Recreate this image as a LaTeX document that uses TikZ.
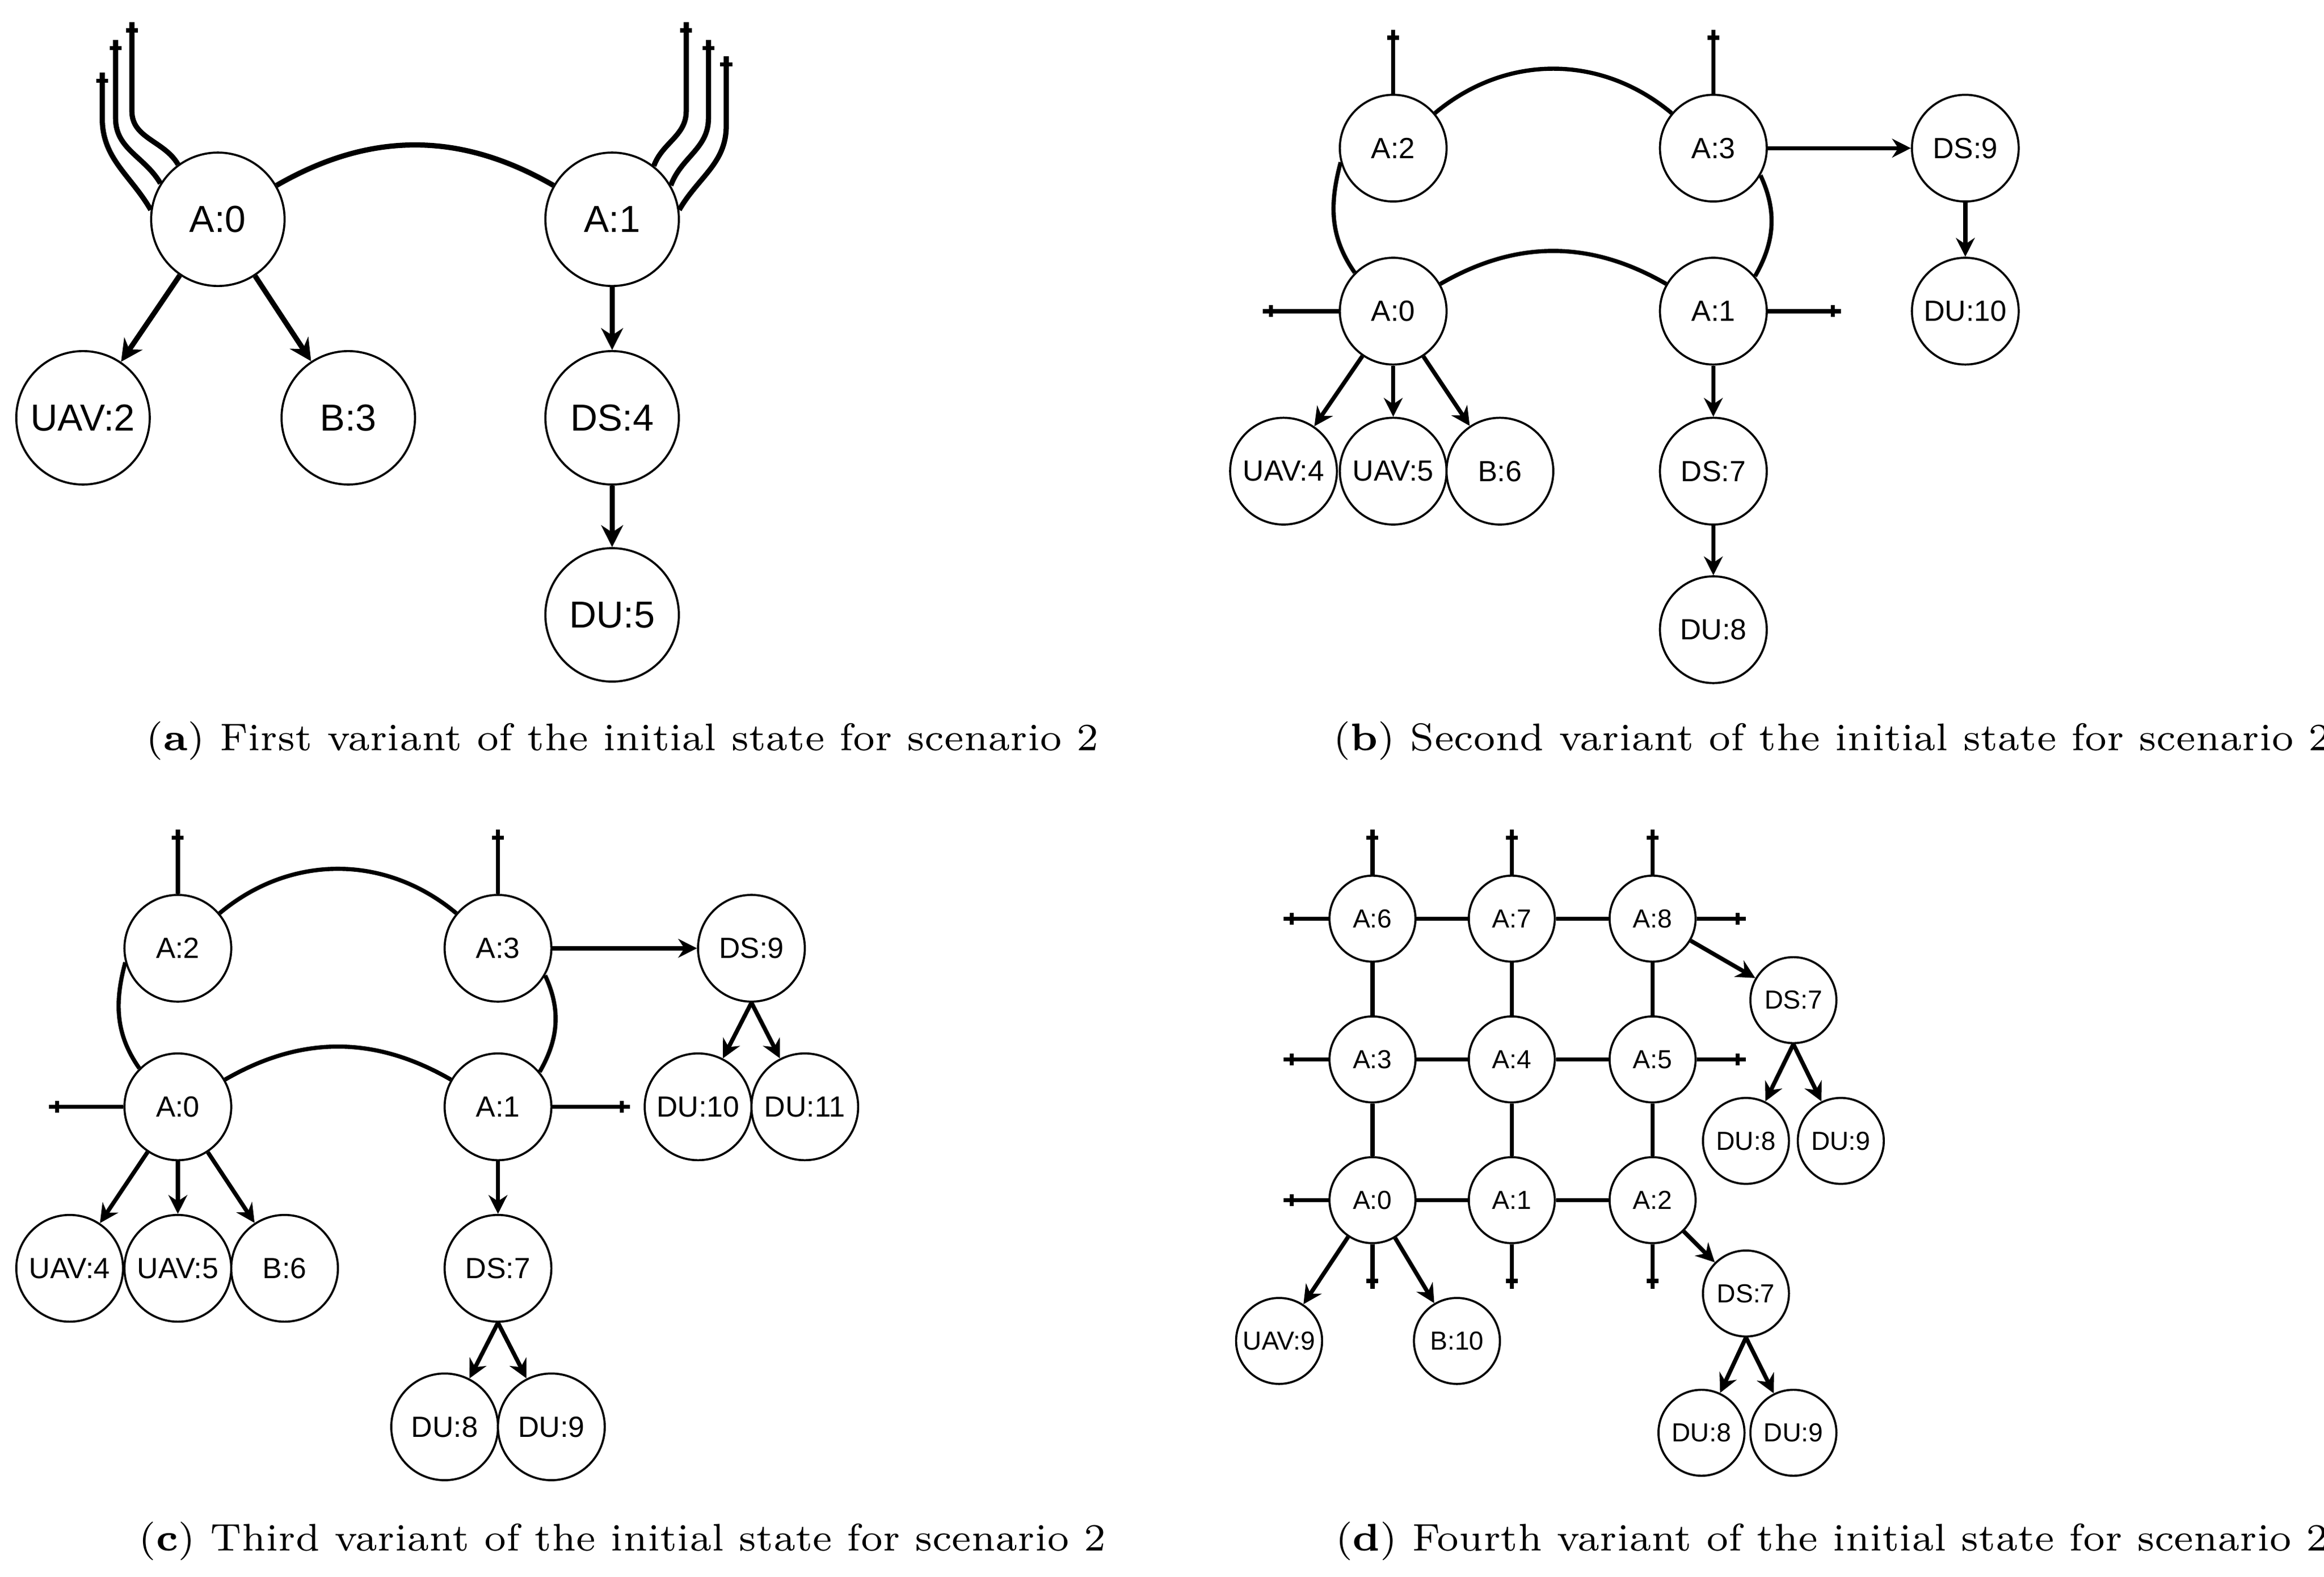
\documentclass[tikz,border=0pt]{standalone}
\usepackage{fontspec}
\newfontfamily\sfl{Liberation Sans}
\usetikzlibrary{arrows.meta,decorations.markings}
\begin{document}
\begin{tikzpicture}[x=0.01cm,y=-0.01cm,
  nd/.style={circle,draw,line width=0.4pt,inner sep=0pt,fill=white,font=\sfl},
  na/.style={nd,minimum size=0.9cm,font=\sfl\fontsize{7.2}{8}\selectfont},
  nb/.style={nd,minimum size=0.72cm,font=\sfl\fontsize{5.6}{7}\selectfont},
  ndd/.style={nd,minimum size=0.58cm,font=\sfl\fontsize{5}{6}\selectfont},
  ln/.style={line width=0.8pt},
  lna/.style={line width=1pt},
  ar/.style={ln,-{Stealth[length=3.6pt,width=3.6pt]}},
  ara/.style={lna,-{Stealth[length=4.2pt,width=4.2pt]}},
  stub/.style={ln,postaction={decorate},decoration={markings,mark=at position 1 with {\draw[line width=0.8pt] (-0.055cm,-0.04cm)--(-0.055cm,0.04cm);}}},
  captxt/.style={font=\fontsize{7.4}{9}\selectfont}]
\useasboundingbox (0,0) rectangle (1568,1064);
% ---------- (a)
\node[na] (a0) at (147,148) {A:0};
\node[na] (a1) at (413,148) {A:1};
\node[na] (a2) at (56,282) {UAV:2};
\node[na] (a3) at (235,282) {B:3};
\node[na] (a4) at (413,282) {DS:4};
\node[na] (a5) at (413,415) {DU:5};
\draw[lna] (a0) to[out=30,in=150] (a1);
\coordinate (al1) at (69,49); \coordinate (al2) at (78,27); \coordinate (al3) at (89,15);
\coordinate (ar1) at (463,15); \coordinate (ar2) at (478,27); \coordinate (ar3) at (490,38);
\draw[stub,lna] (a0.172) to[out=120,in=-90] (69,80) -- (al1);
\draw[stub,lna] (a0.148) to[out=120,in=-90] (78,80) -- (al2);
\draw[stub,lna] (a0.126) to[out=120,in=-90] (89,75) -- (al3);
\draw[stub,lna] (a1.52) to[out=70,in=-90] (463,75) -- (ar1);
\draw[stub,lna] (a1.30) to[out=70,in=-90] (478,80) -- (ar2);
\draw[stub,lna] (a1.8) to[out=60,in=-90] (490,85) -- (ar3);
\draw[ara] (a0) -- (a2);
\draw[ara] (a0) -- (a3);
\draw[ara] (a1) -- (a4);
\draw[ara] (a4) -- (a5);
\node[captxt] (capa) at (420,500) {(\textbf{a}) First variant of the initial state for scenario 2};
% ---------- (b)
\node[nb] (b2) at (940,100) {A:2};
\node[nb] (b3) at (1156,100) {A:3};
\node[nb] (b0) at (940,210) {A:0};
\node[nb] (b1) at (1156,210) {A:1};
\node[nb] (b9) at (1326,100) {DS:9};
\node[nb] (b10) at (1326,210) {DU:10};
\node[nb] (b4) at (866,318) {UAV:4};
\node[nb] (b5) at (940,318) {UAV:5};
\node[nb] (b6) at (1012,318) {B:6};
\node[nb] (b7) at (1156,318) {DS:7};
\node[nb] (b8) at (1156,425) {DU:8};
\coordinate (bt2) at (940,20); \coordinate (bt3) at (1156,20);
\coordinate (bl0) at (852,210); \coordinate (br1) at (1242,210);
\draw[stub] (b2) -- (bt2);
\draw[stub] (b3) -- (bt3);
\draw[stub] (b0) -- (bl0);
\draw[stub] (b1) -- (br1);
\draw[ln] (b2) to[out=40,in=140] (b3);
\draw[ln] (b0) to[out=30,in=150] (b1);
\draw[ln] (b2.195) to[out=255,in=125] (b0.135);
\draw[ln] (b3.-30) to[out=-65,in=60] (b1.40);
\draw[ar] (b3) -- (b9);
\draw[ar] (b9) -- (b10);
\draw[ar] (b0) -- (b4);
\draw[ar] (b0) -- (b5);
\draw[ar] (b0) -- (b6);
\draw[ar] (b1) -- (b7);
\draw[ar] (b7) -- (b8);
\node[captxt] (capb) at (1236,500) {(\textbf{b}) Second variant of the initial state for scenario 2};
% ---------- (c)
\node[nb] (c2) at (120,640) {A:2};
\node[nb] (c3) at (336,640) {A:3};
\node[nb] (c0) at (120,747) {A:0};
\node[nb] (c1) at (336,747) {A:1};
\node[nb] (c9) at (507,640) {DS:9};
\node[nb] (c10) at (471,747) {DU:10};
\node[nb] (c11) at (543,747) {DU:11};
\node[nb] (c4) at (47,856) {UAV:4};
\node[nb] (c5) at (120,856) {UAV:5};
\node[nb] (c6) at (192,856) {B:6};
\node[nb] (c7) at (336,856) {DS:7};
\node[nb] (c8) at (300,963) {DU:8};
\node[nb] (c99) at (372,963) {DU:9};
\coordinate (ct2) at (120,560); \coordinate (ct3) at (336,560);
\coordinate (cl0) at (33,747); \coordinate (cr1) at (425,747);
\draw[stub] (c2) -- (ct2);
\draw[stub] (c3) -- (ct3);
\draw[stub] (c0) -- (cl0);
\draw[stub] (c1) -- (cr1);
\draw[ln] (c2) to[out=40,in=140] (c3);
\draw[ln] (c0) to[out=30,in=150] (c1);
\draw[ln] (c2.195) to[out=255,in=125] (c0.135);
\draw[ln] (c3.-30) to[out=-65,in=60] (c1.40);
\draw[ar] (c3) -- (c9);
\draw[ar] (c9.south) -- (c10);
\draw[ar] (c9.south) -- (c11);
\draw[ar] (c0) -- (c4);
\draw[ar] (c0) -- (c5);
\draw[ar] (c0) -- (c6);
\draw[ar] (c1) -- (c7);
\draw[ar] (c7.south) -- (c8);
\draw[ar] (c7.south) -- (c99);
\node[captxt] (capc) at (420,1040) {(\textbf{c}) Third variant of the initial state for scenario 2};
% ---------- (d)
\node[ndd] (d6) at (926,620) {A:6};
\node[ndd] (d7) at (1020,620) {A:7};
\node[ndd] (d8) at (1115,620) {A:8};
\node[ndd] (d3) at (926,715) {A:3};
\node[ndd] (d4) at (1020,715) {A:4};
\node[ndd] (d5) at (1115,715) {A:5};
\node[ndd] (d0) at (926,810) {A:0};
\node[ndd] (d1) at (1020,810) {A:1};
\node[ndd] (d2) at (1115,810) {A:2};
\node[ndd] (dsa) at (1210,675) {DS:7};
\node[ndd] (dua) at (1178,770) {DU:8};
\node[ndd] (dub) at (1242,770) {DU:9};
\node[ndd] (dsb) at (1178,873) {DS:7};
\node[ndd] (duc) at (1148,967) {DU:8};
\node[ndd] (dud) at (1210,967) {DU:9};
\node[ndd] (duav) at (863,905) {UAV:9};
\node[ndd] (db) at (983,905) {B:10};
\foreach \u/\v in {d6/d7,d7/d8,d3/d4,d4/d5,d0/d1,d1/d2,d6/d3,d3/d0,d7/d4,d4/d1,d8/d5,d5/d2}
  \draw[ln] (\u) -- (\v);
\coordinate (dt6) at (926,560); \coordinate (dt7) at (1020,560); \coordinate (dt8) at (1115,560);
\coordinate (dl6) at (866,620); \coordinate (dl3) at (866,715); \coordinate (dl0) at (866,810);
\coordinate (dr8) at (1178,620); \coordinate (dr5) at (1178,715);
\coordinate (db0) at (926,870); \coordinate (db1) at (1020,870); \coordinate (db2) at (1115,870);
\foreach \n/\c in {d6/dt6,d7/dt7,d8/dt8,d6/dl6,d3/dl3,d0/dl0,d8/dr8,d5/dr5,d0/db0,d1/db1,d2/db2}
  \draw[stub] (\n) -- (\c);
\draw[ar] (d8) -- (dsa);
\draw[ar] (dsa.south) -- (dua);
\draw[ar] (dsa.south) -- (dub);
\draw[ar] (d2) -- (dsb);
\draw[ar] (dsb.south) -- (duc);
\draw[ar] (dsb.south) -- (dud);
\draw[ar] (d0) -- (duav);
\draw[ar] (d0) -- (db);
\node[captxt] (capd) at (1236,1040) {(\textbf{d}) Fourth variant of the initial state for scenario 2};
\end{tikzpicture}
\end{document}
